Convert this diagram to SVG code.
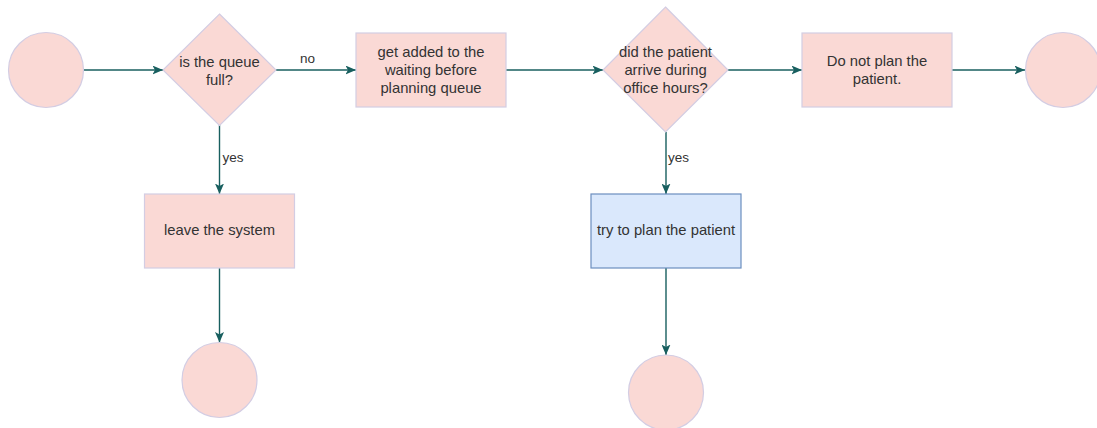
<svg xmlns="http://www.w3.org/2000/svg" width="1097" height="428" viewBox="0 0 1097 428">
  <style>
    .pink { fill: #fad9d5; stroke: #d3cde3; stroke-width: 1.2; }
    .blue { fill: #dae8fc; stroke: #6c8ebf; stroke-width: 1.2; }
    .lbl { font-family: "Liberation Sans", Arial, sans-serif; font-size: 14.8px; fill: #333333; text-anchor: middle; }
    .edge-lbl { font-family: "Liberation Sans", Arial, sans-serif; font-size: 13.5px; fill: #333333; }
    .edge { fill: none; stroke: #185f5f; stroke-width: 1.4; marker-end: url(#arrow); }
  </style>
  <defs>
    <marker id="arrow" markerUnits="userSpaceOnUse" markerWidth="11" markerHeight="9" refX="10.5" refY="4.5" orient="auto">
      <path d="M0,0 L10.5,4.5 L0,9 L2.5,4.5 Z" fill="#185f5f"/>
    </marker>
  </defs>
  <rect width="1097" height="428" fill="#ffffff"/>

  <g id="connectors">
    <line class="edge" x1="84" y1="70" x2="163" y2="70"/>
    <line class="edge" x1="276" y1="70" x2="356" y2="70"/>
    <line class="edge" x1="506" y1="70" x2="603" y2="70"/>
    <line class="edge" x1="728" y1="70" x2="802" y2="70"/>
    <line class="edge" x1="952" y1="70" x2="1025" y2="70"/>
    <line class="edge" x1="219.5" y1="125" x2="219.5" y2="194"/>
    <line class="edge" x1="219.5" y1="268" x2="219.5" y2="342.5"/>
    <line class="edge" x1="666" y1="132" x2="666" y2="194"/>
    <line class="edge" x1="666" y1="268" x2="666" y2="355"/>
    <text class="edge-lbl" x="300" y="63">no</text>
    <text class="edge-lbl" x="222.5" y="162">yes</text>
    <text class="edge-lbl" x="668" y="162">yes</text>
  </g>

  <g id="start">
    <circle class="pink" cx="46" cy="70" r="37.5"/>
  </g>

  <g id="queue-full">
    <polygon class="pink" points="219.5,14 276,70 219.5,125.5 163,70"/>
    <text class="lbl" x="219.5" y="67">is the queue</text>
    <text class="lbl" x="219.5" y="85">full?</text>
  </g>

  <g id="add-to-queue">
    <rect class="pink" x="356" y="33" width="150" height="74"/>
    <text class="lbl" x="431" y="57">get added to the</text>
    <text class="lbl" x="431" y="75">waiting before</text>
    <text class="lbl" x="431" y="93">planning queue</text>
  </g>

  <g id="office-hours">
    <polygon class="pink" points="665.5,7 728,70 665.5,132 603,70"/>
    <text class="lbl" x="665.5" y="57">did the patient</text>
    <text class="lbl" x="665.5" y="75">arrive during</text>
    <text class="lbl" x="665.5" y="93">office hours?</text>
  </g>

  <g id="do-not-plan">
    <rect class="pink" x="802" y="33" width="150" height="74"/>
    <text class="lbl" x="877" y="66">Do not plan the</text>
    <text class="lbl" x="877" y="84">patient.</text>
  </g>

  <g id="end-right">
    <circle class="pink" cx="1063" cy="70" r="37.5"/>
  </g>

  <g id="leave-system">
    <rect class="pink" x="144.5" y="194" width="150" height="74"/>
    <text class="lbl" x="219.5" y="235">leave the system</text>
  </g>

  <g id="end-leave">
    <circle class="pink" cx="219.5" cy="380" r="37.5"/>
  </g>

  <g id="try-plan">
    <rect class="blue" x="591" y="194" width="150" height="74"/>
    <text class="lbl" x="666" y="235">try to plan the patient</text>
  </g>

  <g id="end-plan">
    <circle class="pink" cx="666" cy="392.5" r="37.5"/>
  </g>
</svg>
